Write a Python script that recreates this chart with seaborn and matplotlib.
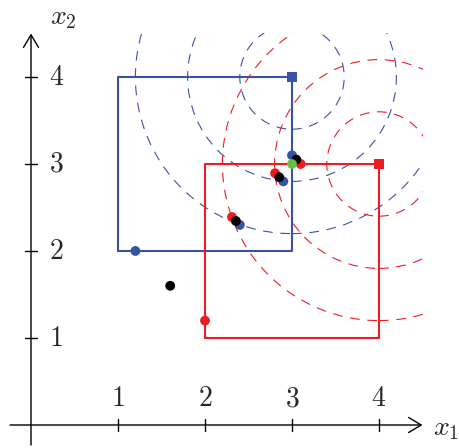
import matplotlib
matplotlib.use("Agg")
import matplotlib.pyplot as plt
from matplotlib.patches import Circle, Rectangle
import pandas as pd
import seaborn as sns

sns.set_theme(style="white")
plt.rcParams["mathtext.fontset"] = "cm"
plt.rcParams["lines.scale_dashes"] = False

BLUE = "#3953a4"
RED = "#ed1c24"
BLACK = "#000000"
GREEN = "#6abd45"

# The two constraint boxes (closed outlines)
blue_box_x = [1, 3, 3, 1, 1]
blue_box_y = [2, 2, 4, 4, 2]
red_box_x = [2, 4, 4, 2, 2]
red_box_y = [1, 1, 3, 3, 1]

# Targets (box corners) and the level-set radii around them
blue_target = (3, 4)
red_target = (4, 3)
radii = [0.6, 1.2, 1.8]

# Iterates: point in each box and their average
blue_x = [1.20, 2.40, 2.90, 3.00]
blue_y = [2.00, 2.30, 2.80, 3.10]
red_x = [2.00, 2.31, 2.805, 3.10]
red_y = [1.20, 2.39, 2.895, 3.00]
mean_x = [1.60, 2.355, 2.853, 3.05]
mean_y = [1.60, 2.345, 2.848, 3.05]
sol_x = [3.0]
sol_y = [3.0]

ticks = [1, 2, 3, 4]
axis_max = 4.5

fig = plt.figure(figsize=(4.59, 4.48), dpi=100)
ax = fig.add_axes([0, 0, 1, 1])
ax.set_xlim(-31 / 87, 428 / 87)
ax.set_ylim(-23 / 87, 425 / 87)
ax.axis("off")

# dashed level circles, clipped to the quadrant box
clip = Rectangle((-1, -1), axis_max + 1, axis_max + 1, transform=ax.transData)
for center, col in [(blue_target, BLUE), (red_target, RED)]:
    for r in radii:
        c = Circle(center, r, fill=False, ec=col, lw=0.8, ls=(0, (7, 5.5)), zorder=1)
        ax.add_patch(c)
        c.set_clip_path(clip)

# boxes
sns.lineplot(x=blue_box_x, y=blue_box_y, sort=False, estimator=None, color=BLUE,
             lw=1.5, ax=ax, zorder=2)
sns.lineplot(x=red_box_x, y=red_box_y, sort=False, estimator=None, color=RED,
             lw=1.5, ax=ax, zorder=2)

# axes with arrows
arrow = dict(arrowstyle="->,head_length=0.75,head_width=0.45", lw=1.0, color="black",
             shrinkA=0, shrinkB=0, mutation_scale=12)
ax.annotate("", xy=(axis_max, 0), xytext=(-0.24, 0), arrowprops=arrow, zorder=3)
ax.annotate("", xy=(0, axis_max), xytext=(0, -0.23), arrowprops=arrow, zorder=3)
tl = 0.065
for t in ticks:
    ax.plot([t, t], [-tl, tl], color="black", lw=1.0, zorder=3)
    ax.plot([-tl, tl], [t, t], color="black", lw=1.0, zorder=3)
    ax.text(t, 0.31, f"${t}$", ha="center", va="center", fontsize=20)
    ax.text(0.29, t, f"${t}$", ha="center", va="center", fontsize=20)
ax.text(4.775, -0.03, "$x_1$", ha="center", va="center", fontsize=20)
ax.text(0.37, 4.69, "$x_2$", ha="center", va="center", fontsize=20)

# target corners
corners = pd.DataFrame({"x": [blue_target[0], red_target[0]],
                        "y": [blue_target[1], red_target[1]],
                        "set": ["blue", "red"]})
sns.scatterplot(data=corners, x="x", y="y", hue="set", palette={"blue": BLUE, "red": RED},
                marker="s", s=55, linewidth=0, legend=False, ax=ax, zorder=4)

# iterates (red, blue, then averages on top, solution last)
pts = pd.concat([
    pd.DataFrame({"x": red_x, "y": red_y, "set": "red"}),
    pd.DataFrame({"x": blue_x, "y": blue_y, "set": "blue"}),
    pd.DataFrame({"x": mean_x, "y": mean_y, "set": "mean"}),
    pd.DataFrame({"x": sol_x, "y": sol_y, "set": "sol"}),
], ignore_index=True)
sns.scatterplot(data=pts, x="x", y="y", hue="set",
                palette={"red": RED, "blue": BLUE, "mean": BLACK, "sol": GREEN},
                s=50, linewidth=0, legend=False, ax=ax, zorder=5)

fig.savefig("out.png", dpi=100)
